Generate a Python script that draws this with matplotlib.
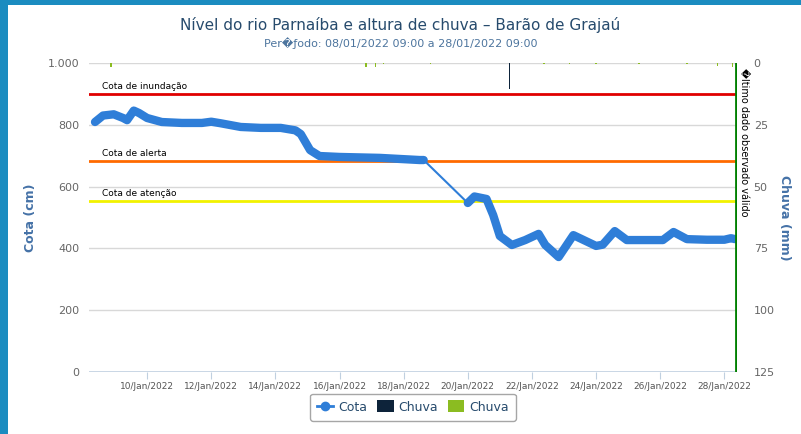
import datetime as dt

import matplotlib.pyplot as plt
import matplotlib.dates as mdates
from matplotlib.lines import Line2D
from matplotlib.patches import Patch, Rectangle


def d(day, hour=0, minute=0):
    return dt.datetime(2022, 1, 1) + dt.timedelta(days=day - 1, hours=hour, minutes=minute)


# river level (cm) - two observed segments, joined by a thin line
cota_t1 = [d(8, 9), d(8, 15), d(8, 23), d(9, 6), d(9, 9), d(9, 14), d(9, 18), d(10, 0),
           d(10, 11), d(11, 2), d(11, 17), d(12, 0), d(12, 7), d(12, 22), d(13, 13),
           d(14, 4), d(14, 15), d(14, 19), d(15, 2), d(15, 9), d(16, 0), d(17, 6), d(18, 12),
           d(18, 15)]
cota_v1 = [809, 830, 834, 822, 815, 846, 838, 822, 809, 806, 806, 810, 805, 793, 790,
           790, 782, 770, 718, 699, 696, 693, 686, 686]
cota_t2 = [d(20, 0), d(20, 5), d(20, 14), d(20, 19), d(21, 0), d(21, 9), d(21, 19),
           d(22, 5), d(22, 10), d(22, 20), d(23, 7), d(24, 0), d(24, 5), d(24, 14),
           d(24, 23), d(25, 14), d(26, 2), d(26, 10), d(26, 20), d(27, 11), d(28, 0),
           d(28, 5), d(28, 8)]
cota_v2 = [547, 568, 560, 508, 440, 411, 427, 447, 411, 372, 443, 408, 412, 456, 427,
           427, 427, 453, 430, 428, 428, 433, 430]

# rain (mm)
chuva_dark_t = [d(21, 7)]
chuva_dark_v = [10.5]
chuva_green_t = [d(8, 21), d(16, 20), d(17, 3), d(17, 9), d(18, 20), d(22, 9),
                 d(23, 4), d(24, 0), d(25, 8), d(26, 20), d(27, 19), d(28, 6)]
chuva_green_v = [1.5, 1.5, 1.5, 0.4, 0.4, 0.3, 0.3, 0.3, 0.3, 0.3, 1.2, 1.5]

# reference levels (cm)
cotas_ref = [("Cota de inundação", 900, "#e00000"),
             ("Cota de alerta", 683, "#ff6a00"),
             ("Cota de atenção", 553, "#f2f200")]

ultimo_dado = d(28, 9)
x_ticks = [d(k) for k in range(10, 29, 2)]

fig = plt.figure(figsize=(8.01, 4.34), dpi=100)
fig.patch.set_facecolor("#1b8cc0")
fig.patches.append(Rectangle((8 / 801, 0), 1, 1 - 5 / 434, transform=fig.transFigure,
                             facecolor="white", edgecolor="none", zorder=-10))

ax = fig.add_axes([89 / 801, 1 - 372 / 434, (737 - 89) / 801, (372 - 63) / 434])
ax.set_facecolor("none")
ax2 = ax.twinx()

ax.set_xlim(d(8, 4, 30), d(28, 9, 30))
ax.set_ylim(0, 1000)
ax2.set_ylim(125, 0)

for v in [200, 400, 600, 800, 1000]:
    ax.axhline(v, color="#d8d8d8", lw=1, zorder=1)
ax.axhline(0, color="#c0d0e0", lw=1.2, zorder=1)

for name, val, col in cotas_ref:
    ax.axhline(val, color=col, lw=2, zorder=3)
    ax.text(d(8, 14), val + 9, name, fontsize=6.5, color="black", va="bottom", zorder=4)

# rain bars
ax2.bar(chuva_dark_t, chuva_dark_v, width=0.04, color="#0d233a", zorder=2)
ax2.bar(chuva_green_t, chuva_green_v, width=0.05, color="#8bbc21", zorder=2)

# level series
ax.plot(cota_t1 + cota_t2, cota_v1 + cota_v2, color="#2f7ed8", lw=1.5, zorder=5)
ax.plot(cota_t1, cota_v1, color="#2f7ed8", lw=6, solid_capstyle="round",
        solid_joinstyle="round", zorder=5)
ax.plot(cota_t2, cota_v2, color="#2f7ed8", lw=6, solid_capstyle="round",
        solid_joinstyle="round", zorder=5)

ax.axvline(ultimo_dado, color="#008000", lw=2, zorder=6)
ax.text(ultimo_dado + dt.timedelta(hours=2), 985, "\ufffdltimo dado observado válido",
        rotation=-90, fontsize=7, va="top", ha="left", color="black", zorder=6)

for a in (ax, ax2):
    for s in a.spines.values():
        s.set_visible(False)

ax.set_xticks(x_ticks)
ax.xaxis.set_major_formatter(mdates.DateFormatter("%d/%b/%Y"))
ax.tick_params(axis="x", labelsize=6.5, colors="#c0d0e0", labelcolor="#555555",
               length=5, pad=2)
ax.set_yticks([0, 200, 400, 600, 800, 1000])
ax.set_yticklabels(["0", "200", "400", "600", "800", "1.000"])
ax.tick_params(axis="y", length=0, labelsize=8, labelcolor="#666666", pad=7)
ax2.set_yticks([0, 25, 50, 75, 100, 125])
ax2.tick_params(axis="y", length=0, labelsize=8, labelcolor="#666666", pad=12)

ax.set_ylabel("Cota (cm)", color="#4572a7", fontsize=9, fontweight="bold", labelpad=8)
ax2.set_ylabel("Chuva (mm)", color="#4572a7", fontsize=9, fontweight="bold",
               rotation=270, labelpad=12)

fig.text(0.5, 1 - 25 / 434, "Nível do rio Parnaíba e altura de chuva – Barão de Grajaú",
         ha="center", va="center", fontsize=11, color="#274b6d")
fig.text(0.5, 1 - 43 / 434, "Per\ufffd\u0192odo: 08/01/2022 09:00 a 28/01/2022 09:00",
         ha="center", va="center", fontsize=8, color="#4d759e")

handles = [Line2D([], [], color="#2f7ed8", lw=2, marker="o", markersize=6),
           Patch(facecolor="#0d233a"), Patch(facecolor="#8bbc21")]
leg = fig.legend(handles, ["Cota", "Chuva", "Chuva"], loc="center",
                 bbox_to_anchor=(413 / 801, 1 - 407 / 434), ncol=3, fontsize=9,
                 frameon=True, handlelength=1.3, handleheight=1.1, handletextpad=0.4,
                 columnspacing=0.8, fancybox=True, edgecolor="#909090", borderpad=0.55)
for t in leg.get_texts():
    t.set_color("#274b6d")

fig.savefig("out.png", dpi=100)
